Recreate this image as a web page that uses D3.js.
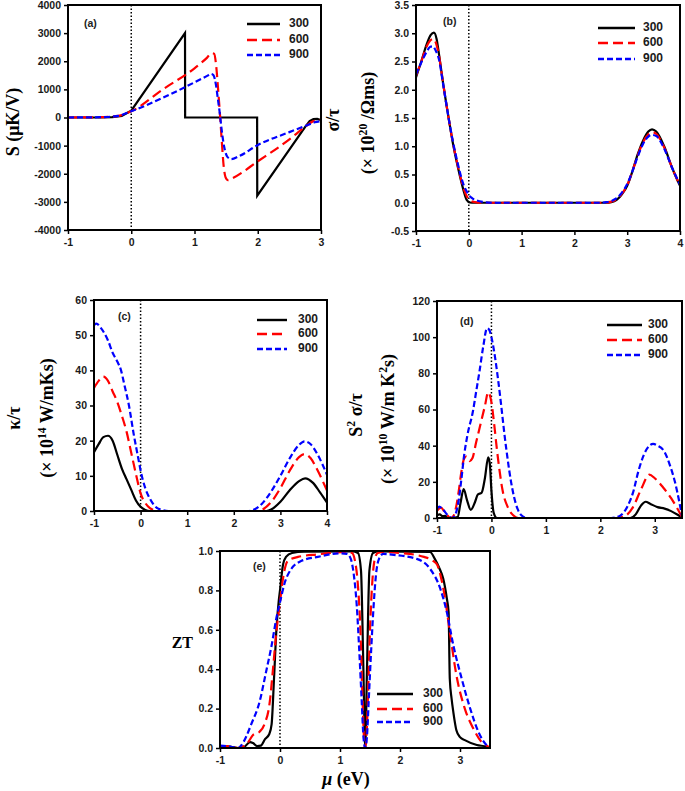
<!DOCTYPE html>
<html><head><meta charset="utf-8">
<script src="https://cdn.jsdelivr.net/npm/d3@7"></script>
<style>
html,body{margin:0;padding:0;background:#fff;}
svg{display:block;}
</style></head>
<body>
<svg id="chart" width="685" height="791"></svg>
<script>
// ---------------- DATA ----------------
const temps = ["300", "600", "900"];

// (a) Seebeck coefficient S (μK/V) vs μ (eV)
const seebeck300 = [[-1,0],[-0.5,2],[-0.3,15],[-0.15,60],[0,240],[0.85,3000],[0.852,0],[1.99,0],[1.992,-2780],[2.75,-330],[2.82,-130],[2.88,-60],[2.94,-50],[3.0,-90]];
const seebeck600 = [[-1,0],[-0.5,10],[-0.2,60],[0,220],[0.5,1000],[1.0,1750],[1.2,2130],[1.27,2290],[1.31,2270],[1.34,1900],[1.37,1100],[1.40,200],[1.43,-800],[1.46,-1700],[1.49,-2120],[1.53,-2230],[1.6,-2160],[2.0,-1560],[2.5,-780],[2.75,-330],[2.88,-130],[3.0,-90]];
const seebeck900 = [[-1,0],[-0.5,10],[-0.2,60],[0,220],[0.5,700],[1.0,1250],[1.2,1480],[1.26,1550],[1.30,1500],[1.34,1150],[1.37,650],[1.40,150],[1.43,-450],[1.47,-1050],[1.52,-1400],[1.58,-1480],[1.7,-1380],[2.0,-980],[2.5,-520],[2.75,-300],[2.9,-170],[3.0,-130]];

// (b) σ/τ (×10^20 /Ωms)
const sigma300 = [[-1,2.22],[-0.9,2.5],[-0.8,2.8],[-0.72,2.97],[-0.66,3.01],[-0.61,2.9],[-0.56,2.6],[-0.5,2.2],[-0.4,1.6],[-0.3,1.05],[-0.2,0.6],[-0.1,0.22],[-0.04,0.05],[0.02,0.005],[0.1,0],[2.6,0],[2.7,0.01],[2.8,0.05],[2.9,0.15],[3.0,0.3],[3.1,0.56],[3.2,0.86],[3.3,1.1],[3.4,1.26],[3.47,1.3],[3.55,1.26],[3.7,1.0],[3.85,0.62],[4.0,0.3]];
const sigma600 = [[-1,2.25],[-0.9,2.5],[-0.8,2.76],[-0.72,2.88],[-0.67,2.9],[-0.62,2.82],[-0.56,2.58],[-0.5,2.2],[-0.4,1.6],[-0.3,1.06],[-0.2,0.62],[-0.1,0.26],[-0.03,0.1],[0.03,0.04],[0.12,0.01],[0.25,0],[2.55,0],[2.7,0.02],[2.8,0.06],[2.9,0.16],[3.0,0.31],[3.1,0.56],[3.2,0.84],[3.3,1.07],[3.4,1.21],[3.47,1.25],[3.55,1.22],[3.7,0.98],[3.85,0.62],[4.0,0.3]];
const sigma900 = [[-1,2.27],[-0.9,2.48],[-0.8,2.67],[-0.73,2.76],[-0.68,2.77],[-0.63,2.7],[-0.56,2.52],[-0.5,2.18],[-0.4,1.6],[-0.3,1.08],[-0.2,0.66],[-0.1,0.32],[-0.02,0.17],[0.05,0.09],[0.15,0.04],[0.3,0.01],[0.45,0],[2.45,0],[2.6,0.01],[2.7,0.03],[2.8,0.08],[2.9,0.18],[3.0,0.33],[3.1,0.56],[3.2,0.82],[3.3,1.04],[3.4,1.17],[3.47,1.2],[3.55,1.18],[3.7,0.96],[3.85,0.62],[4.0,0.32]];

// (c) κ/τ (×10^14 W/mKs)
const kappa300 = [[-1,16.7],[-0.9,19],[-0.8,21],[-0.7,21.4],[-0.6,20],[-0.5,16],[-0.4,12],[-0.3,9],[-0.2,6],[-0.1,3],[0,1.2],[0.1,0.3],[0.2,0],[2.7,0],[2.8,0.4],[3.0,2.6],[3.2,5.9],[3.4,8.5],[3.53,9.3],[3.7,8],[3.85,5.3],[4.0,2.4]];
const kappa600 = [[-1,35],[-0.9,37],[-0.8,38.2],[-0.7,37],[-0.6,34],[-0.5,31],[-0.4,27],[-0.3,22.5],[-0.2,16.5],[-0.1,10.5],[0,5],[0.1,2.3],[0.2,0.8],[0.3,0.2],[0.4,0],[2.5,0],[2.6,0.3],[2.8,2.5],[3.0,6.5],[3.2,11.5],[3.4,15.3],[3.52,16.2],[3.65,15],[3.8,11.5],[4.0,5.8]];
const kappa900 = [[-1,52.8],[-0.95,53.3],[-0.85,52],[-0.7,48.5],[-0.6,45],[-0.5,42.5],[-0.42,40],[-0.35,36],[-0.25,30],[-0.15,22],[-0.05,15],[0,11.5],[0.1,6.5],[0.2,3.5],[0.3,1.5],[0.45,0.3],[0.6,0],[2.3,0],[2.45,0.5],[2.6,2],[2.8,5.5],[3.0,10],[3.2,15],[3.4,18.8],[3.52,19.8],[3.65,19],[3.8,16],[4.0,10.3]];

// (d) S²σ/τ (×10^10 W/mK²s)
const pf300 = [[-1,1.5],[-0.95,2],[-0.9,1],[-0.85,1.2],[-0.8,0],[-0.7,0],[-0.62,0.5],[-0.57,8],[-0.51,16],[-0.45,10],[-0.38,4.5],[-0.3,9],[-0.25,13],[-0.18,14],[-0.12,22],[-0.06,33.5],[-0.03,30],[0,15],[0.04,3],[0.1,0],[2.55,0],[2.65,2],[2.75,7],[2.83,9],[2.92,7.8],[3.05,6],[3.18,5.2],[3.3,3.8],[3.42,1.8],[3.5,0.3]];
const pf600 = [[-1,4],[-0.93,5.7],[-0.85,3],[-0.75,0],[-0.7,1],[-0.65,6],[-0.6,15],[-0.55,26],[-0.5,33],[-0.46,34],[-0.4,31.5],[-0.35,33],[-0.28,42],[-0.2,52],[-0.12,62],[-0.06,69.5],[0,64],[0.05,52],[0.1,38],[0.15,26],[0.2,16],[0.3,6],[0.4,1.5],[0.5,0],[2.3,0],[2.45,1],[2.6,6],[2.75,16],[2.9,24],[3.0,22],[3.15,17],[3.3,11],[3.4,6],[3.5,0.5]];
const pf900 = [[-1,5],[-0.96,6.3],[-0.9,5],[-0.8,1.5],[-0.72,0],[-0.65,3],[-0.6,10],[-0.55,22],[-0.5,35],[-0.44,46],[-0.34,59],[-0.28,70],[-0.22,81],[-0.15,95],[-0.08,105],[-0.04,104],[0,100],[0.05,92],[0.12,77],[0.18,62],[0.24,46],[0.3,32],[0.36,20],[0.42,11],[0.48,5],[0.55,1.5],[0.65,0],[2.2,0],[2.35,1],[2.5,6.5],[2.6,14],[2.7,26],[2.8,35],[2.9,40],[2.97,41],[3.05,40],[3.18,36.5],[3.28,29],[3.37,20],[3.45,9],[3.5,1]];

// (e) ZT
const zt300 = [[-1,0.01],[-0.9,0.01],[-0.8,0.005],[-0.7,0],[-0.6,0.005],[-0.5,0.03],[-0.45,0.025],[-0.38,0.01],[-0.32,0.012],[-0.25,0.045],[-0.18,0.07],[-0.14,0.12],[-0.1,0.35],[-0.06,0.6],[-0.02,0.75],[0,0.8],[0.05,0.93],[0.1,0.97],[0.2,0.99],[0.4,0.997],[1.2,0.998],[1.3,0.99],[1.35,0.9],[1.39,0.4],[1.42,0],[1.45,0.4],[1.49,0.9],[1.55,0.99],[1.65,0.998],[2.5,0.995],[2.58,0.96],[2.66,0.91],[2.72,0.86],[2.78,0.76],[2.81,0.69],[2.83,0.35],[2.86,0.25],[2.89,0.18],[2.94,0.09],[3.0,0.055],[3.08,0.04],[3.28,0.015],[3.44,0.007],[3.5,0]];
const zt600 = [[-1,0.01],[-0.9,0.01],[-0.8,0.005],[-0.7,0],[-0.6,0.01],[-0.53,0.03],[-0.45,0.066],[-0.34,0.083],[-0.26,0.12],[-0.17,0.235],[-0.12,0.39],[-0.06,0.59],[0,0.74],[0.05,0.86],[0.13,0.95],[0.3,0.97],[0.63,0.983],[1.1,0.996],[1.2,0.99],[1.25,0.95],[1.3,0.82],[1.34,0.6],[1.37,0.3],[1.4,0.05],[1.42,0],[1.44,0.05],[1.47,0.3],[1.5,0.6],[1.54,0.85],[1.58,0.96],[1.63,0.99],[1.75,0.995],[2.0,0.99],[2.4,0.97],[2.55,0.95],[2.62,0.93],[2.68,0.87],[2.74,0.78],[2.83,0.59],[2.94,0.37],[3.08,0.2],[3.22,0.1],[3.36,0.03],[3.47,0.007],[3.5,0]];
const zt900 = [[-1,0.012],[-0.9,0.01],[-0.8,0.005],[-0.7,0],[-0.64,0.015],[-0.56,0.06],[-0.48,0.12],[-0.34,0.235],[-0.23,0.39],[-0.14,0.52],[-0.06,0.66],[0,0.74],[0.08,0.84],[0.19,0.91],[0.36,0.95],[0.63,0.97],[1.0,0.988],[1.12,0.985],[1.18,0.96],[1.23,0.88],[1.28,0.72],[1.32,0.5],[1.36,0.25],[1.39,0.06],[1.42,0],[1.45,0.06],[1.48,0.25],[1.52,0.5],[1.56,0.72],[1.6,0.88],[1.65,0.96],[1.72,0.985],[1.9,0.98],[2.28,0.96],[2.5,0.91],[2.67,0.81],[2.78,0.69],[2.89,0.52],[3.03,0.35],[3.17,0.2],[3.31,0.08],[3.44,0.015],[3.5,0]];

// tick values
const xTicksA = [-1, 0, 1, 2, 3];
const yTicksA = [-4000, -3000, -2000, -1000, 0, 1000, 2000, 3000, 4000];
const xTicksB = [-1, 0, 1, 2, 3, 4];
const yTicksB = [-0.5, 0, 0.5, 1, 1.5, 2, 2.5, 3, 3.5];
const xTicksC = [-1, 0, 1, 2, 3, 4];
const yTicksC = [0, 10, 20, 30, 40, 50, 60];
const xTicksD = [-1, 0, 1, 2, 3];
const yTicksD = [0, 20, 40, 60, 80, 100, 120];
const xTicksE = [-1, 0, 1, 2, 3];
const yTicksE = [0, 0.2, 0.4, 0.6, 0.8, 1.0];

// ---------------- DRAW ----------------
const svg = d3.select("#chart");
const colors = ["#000000", "#ff0000", "#0000ff"];
const dashes = [null, "10,5", "6,3"];
const hy = s => s.replace(/\u2212/g, "-");

function panel(cfg, idx) {
  const x = d3.scaleLinear().domain(cfg.xd).range([cfg.x0, cfg.x1]);
  const y = d3.scaleLinear().domain(cfg.yd).range([cfg.y1, cfg.y0]);
  const g = svg.append("g");
  const cid = "clip" + idx;
  svg.append("clipPath").attr("id", cid).append("rect")
    .attr("x", cfg.x0).attr("y", cfg.y0).attr("width", cfg.x1 - cfg.x0).attr("height", cfg.y1 - cfg.y0);

  // dotted zero line
  g.append("line").attr("x1", x(0)).attr("x2", x(0)).attr("y1", cfg.y0).attr("y2", cfg.y1)
    .attr("stroke", "#000").attr("stroke-width", 1.5).attr("stroke-dasharray", "1.5,2");

  // series
  const lines = g.append("g").attr("clip-path", `url(#${cid})`);
  cfg.series.forEach((s, i) => {
    const gen = d3.line().x(d => x(d[0])).y(d => y(d[1]))
      .curve((cfg.linearBlack && i === 0) ? d3.curveLinear : d3.curveMonotoneX);
    lines.append("path").datum(s).attr("d", gen)
      .attr("fill", "none").attr("stroke", colors[i]).attr("stroke-width", 2.2)
      .attr("stroke-dasharray", dashes[i]);
  });

  // axes
  const fmt = v => hy(d3.format(cfg.yfmt)(v));
  const xAxis = g.append("g").attr("transform", `translate(0,${cfg.y1})`)
    .call(d3.axisBottom(x).tickValues(cfg.xt).tickFormat(v => hy(d3.format("d")(v))).tickSize(4).tickPadding(5));
  const yAxis = g.append("g").attr("transform", `translate(${cfg.x0},0)`)
    .call(d3.axisLeft(y).tickValues(cfg.yt).tickFormat(fmt).tickSize(4).tickPadding(3));
  [xAxis, yAxis].forEach(a => {
    a.select(".domain").remove();
    a.selectAll("line").attr("stroke", "#000").attr("stroke-width", 1.5);
    a.selectAll("text").attr("font-family", "Arial, 'Liberation Sans', sans-serif")
      .attr("font-weight", "bold").attr("font-size", 10.5).attr("fill", "#1a1a1a");
  });

  // frame
  g.append("rect").attr("x", cfg.x0).attr("y", cfg.y0).attr("width", cfg.x1 - cfg.x0).attr("height", cfg.y1 - cfg.y0)
    .attr("fill", "none").attr("stroke", "#000").attr("stroke-width", 2);

  // panel tag
  g.append("text").attr("x", cfg.tag[0]).attr("y", cfg.tag[1]).text(cfg.tag[2])
    .attr("font-family", "Arial, 'Liberation Sans', sans-serif").attr("font-weight", "bold")
    .attr("font-size", 10.5).attr("fill", "#222").attr("dominant-baseline", "middle");

  // legend
  const L = cfg.legend;
  temps.forEach((t, i) => {
    g.append("line").attr("x1", L.x1).attr("x2", L.x2).attr("y1", L.ys[i]).attr("y2", L.ys[i])
      .attr("stroke", colors[i]).attr("stroke-width", 2.4).attr("stroke-dasharray", dashes[i]);
    g.append("text").attr("x", L.tx).attr("y", L.ys[i]).text(t)
      .attr("font-family", "Arial, 'Liberation Sans', sans-serif").attr("font-weight", "bold")
      .attr("font-size", 12).attr("fill", "#1a1a1a").attr("dominant-baseline", "middle");
  });
}

const serif = "'Times New Roman', 'Liberation Serif', serif";
function vlabel(x, y, parts, size) {
  const t = svg.append("text").attr("transform", `translate(${x},${y}) rotate(-90)`)
    .attr("text-anchor", "middle").attr("font-family", serif).attr("font-weight", "bold")
    .attr("font-size", size).attr("fill", "#000");
  parts.forEach(p => {
    const ts = t.append("tspan").text(p.t);
    if (p.sup) ts.attr("font-size", size * 0.65).attr("dy", -size * 0.38);
    if (p.down) ts.attr("dy", size * 0.38);
    if (p.italic) ts.attr("font-style", "italic");
  });
}

panel({x0:68, x1:321, y0:5, y1:230, xd:[-1,3], yd:[-4000,4000], xt:xTicksA, yt:yTicksA, yfmt:"d",
  series:[seebeck300, seebeck600, seebeck900], linearBlack:true,
  tag:[84, 24, "(a)"], legend:{x1:247, x2:280, tx:289, ys:[24,40,55]}}, 0);
panel({x0:416, x1:680, y0:5, y1:231, xd:[-1,4], yd:[-0.5,3.5], xt:xTicksB, yt:yTicksB, yfmt:".1f",
  series:[sigma300, sigma600, sigma900],
  tag:[443, 22, "(b)"], legend:{x1:598, x2:635, tx:643, ys:[28,43,59]}}, 1);
panel({x0:94, x1:327, y0:300, y1:511, xd:[-1,4], yd:[0,60], xt:xTicksC, yt:yTicksC, yfmt:"d",
  series:[kappa300, kappa600, kappa900],
  tag:[118, 317, "(c)"], legend:{x1:257, x2:287, tx:298, ys:[320,334,349]}}, 2);
panel({x0:437, x1:682, y0:301, y1:518, xd:[-1,3.5], yd:[0,120], xt:xTicksD, yt:yTicksD, yfmt:"d",
  series:[pf300, pf600, pf900],
  tag:[460, 322, "(d)"], legend:{x1:607, x2:642, tx:648, ys:[325,340,355]}}, 3);
panel({x0:220, x1:490, y0:551, y1:748, xd:[-1,3.5], yd:[0,1], xt:xTicksE, yt:yTicksE, yfmt:".1f",
  series:[zt300, zt600, zt900],
  tag:[253, 567, "(e)"], legend:{x1:377, x2:413, tx:423, ys:[694,709,722]}}, 4);

// axis titles
vlabel(19, 122, [{t:"S (μK/V)"}], 18);
vlabel(339, 120, [{t:"σ/τ"}], 18);
vlabel(374, 123, [{t:"(× 10"},{t:"20",sup:true},{t:" /Ωms)",down:true}], 18);
vlabel(20, 418, [{t:"κ/τ"}], 18);
vlabel(53, 418, [{t:"(× 10"},{t:"14",sup:true},{t:" W/mKs)",down:true}], 18);
vlabel(362, 415, [{t:"S"},{t:"2",sup:true},{t:" σ/τ",down:true}], 18);
vlabel(394, 419, [{t:"(× 10"},{t:"10",sup:true},{t:" W/m K",down:true},{t:"2",sup:true},{t:"s)",down:true}], 18);

svg.append("text").attr("x", 193).attr("y", 648).attr("text-anchor", "end")
  .attr("font-family", serif).attr("font-weight", "bold").attr("font-size", 16).attr("fill", "#000")
  .text("ZT");

const xl = svg.append("text").attr("x", 346).attr("y", 785).attr("text-anchor", "middle")
  .attr("font-family", serif).attr("font-weight", "bold").attr("font-size", 18).attr("fill", "#000");
xl.append("tspan").attr("font-style", "italic").text("μ");
xl.append("tspan").text(" (eV)");
</script>
</body></html>
